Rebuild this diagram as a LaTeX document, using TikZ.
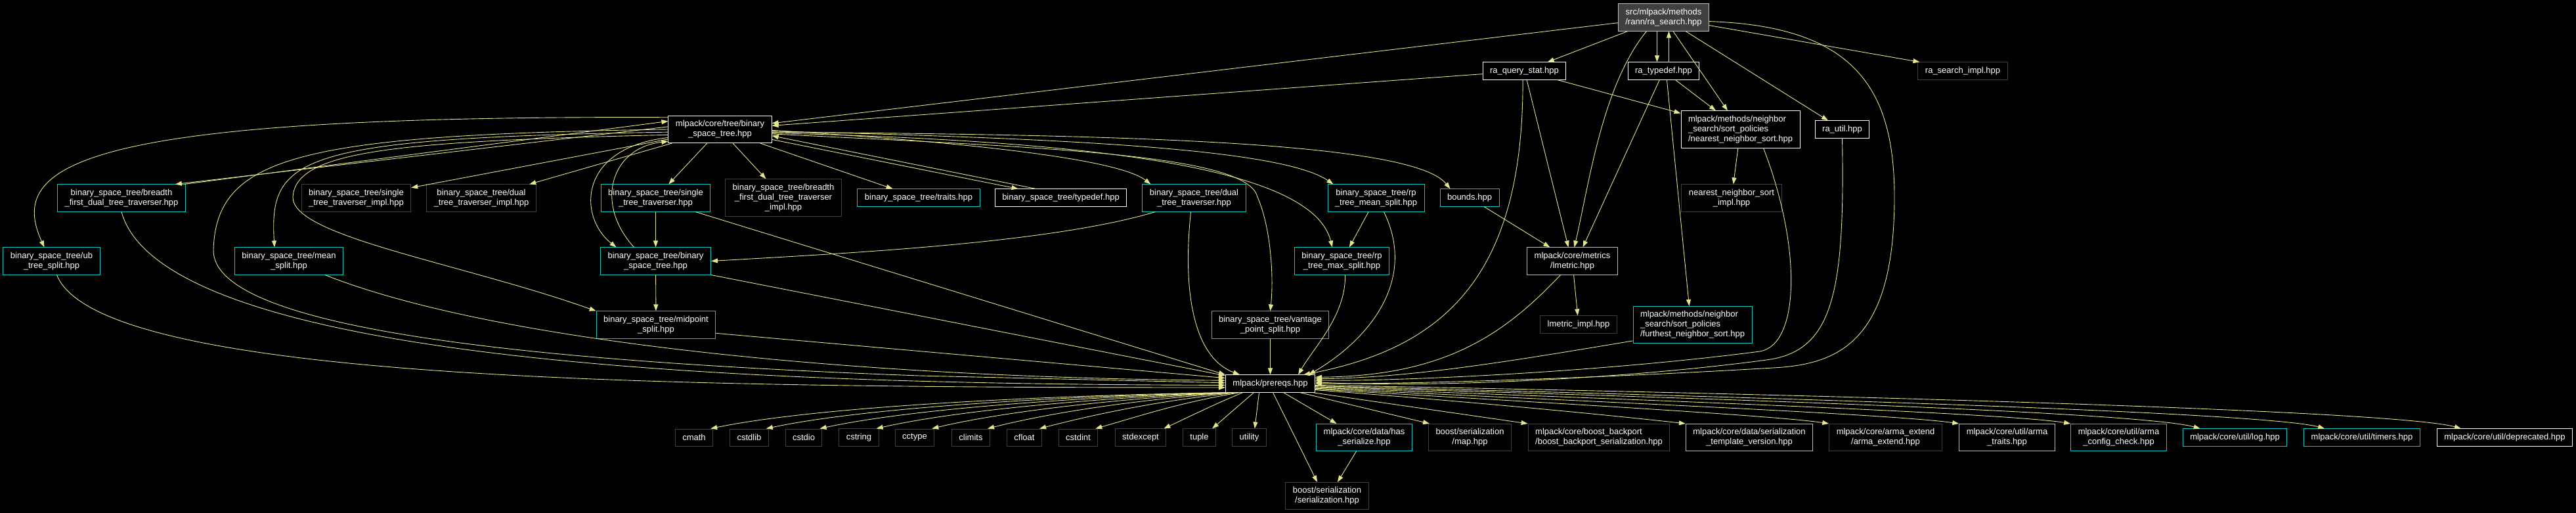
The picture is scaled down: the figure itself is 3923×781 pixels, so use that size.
\documentclass[tikz,border=0pt]{standalone}
\usepackage{fontspec}
\setmainfont{Liberation Sans}
\usetikzlibrary{arrows.meta}
\definecolor{edgeyellow}{HTML}{E6E68F}
\definecolor{cutcyan}{HTML}{00CCCC}
\definecolor{extgrey}{HTML}{404040}
\definecolor{docgrey}{HTML}{BFBFBF}
\definecolor{rootfill}{HTML}{404040}
\tikzset{
  incfile/.style={draw=white,line width=1pt,fill=black,text=white,
    font=\fontsize{13}{15}\selectfont,align=center,
    inner xsep=11pt,inner ysep=7pt,minimum height=26pt},
  docfile/.style={incfile,draw=docgrey},
  cutfile/.style={incfile,draw=cutcyan},
  extfile/.style={incfile,draw=extgrey},
  rootfile/.style={incfile,draw=docgrey,fill=rootfill},
  dep/.style={-{Triangle[length=10pt,width=7pt]},draw=edgeyellow,line width=0.9pt}
}

\begin{document}
\begin{tikzpicture}[x=1pt,y=-1pt]
  \useasboundingbox (0,0) rectangle (3923,781);
  \fill[black] (0,0) rectangle (3923,781);

  \node[rootfile] (search) at (2533.5,26.5) {src/mlpack/methods\\/rann/ra\_search.hpp};
  \node[incfile] (querystat) at (2321.5,108) {ra\_query\_stat.hpp};
  \node[incfile] (ratypedef) at (2533.5,108) {ra\_typedef.hpp};
  \node[extfile] (searchimpl) at (2989,108) {ra\_search\_impl.hpp};
  \node[incfile] (bst) at (1096.5,197) {mlpack/core/tree/binary\\\_space\_tree.hpp};
  \node[incfile,align=left] (nns) at (2650.5,197) {mlpack/methods/neighbor\\\_search/sort\_policies\\/nearest\_neighbor\_sort.hpp};
  \node[incfile] (rautil) at (2805.5,197) {ra\_util.hpp};

  \node[cutfile] (bfdt) at (185,301.5) {binary\_space\_tree/breadth\\\_first\_dual\_tree\_traverser.hpp};
  \node[extfile] (stimpl) at (542.5,301.5) {binary\_space\_tree/single\\\_tree\_traverser\_impl.hpp};
  \node[extfile] (dtimpl) at (733,301.5) {binary\_space\_tree/dual\\\_tree\_traverser\_impl.hpp};
  \node[cutfile] (stt) at (998.5,301.5) {binary\_space\_tree/single\\\_tree\_traverser.hpp};
  \node[extfile] (bfdtimpl) at (1193,301) {binary\_space\_tree/breadth\\\_first\_dual\_tree\_traverser\\\_impl.hpp};
  \node[cutfile] (traits) at (1399,301) {binary\_space\_tree/traits.hpp};
  \node[incfile] (bsttypedef) at (1615.5,301) {binary\_space\_tree/typedef.hpp};
  \node[cutfile] (dtt) at (1818.5,301.5) {binary\_space\_tree/dual\\\_tree\_traverser.hpp};
  \node[cutfile] (rpmean) at (2095.5,301.5) {binary\_space\_tree/rp\\\_tree\_mean\_split.hpp};
  \node[cutfile] (bounds) at (2238,301) {bounds.hpp};
  \node[extfile] (nnsimpl) at (2637,301.5) {nearest\_neighbor\_sort\\\_impl.hpp};

  \node[cutfile] (ubsplit) at (78.5,397.5) {binary\_space\_tree/ub\\\_tree\_split.hpp};
  \node[cutfile] (meansplit) at (440,397.5) {binary\_space\_tree/mean\\\_split.hpp};
  \node[cutfile] (bstbst) at (998.5,397.5) {binary\_space\_tree/binary\\\_space\_tree.hpp};
  \node[cutfile] (rpmax) at (2043.5,397.5) {binary\_space\_tree/rp\\\_tree\_max\_split.hpp};
  \node[docfile] (lmetric) at (2394.5,397.5) {mlpack/core/metrics\\/lmetric.hpp};

  \node[cutfile] (midpoint) at (999,494.5) {binary\_space\_tree/midpoint\\\_split.hpp};
  \node[cutfile] (vantage) at (1934.5,494.5) {binary\_space\_tree/vantage\\\_point\_split.hpp};
  \node[extfile] (lmetricimpl) at (2404,494) {lmetric\_impl.hpp};
  \node[cutfile,align=left] (fns) at (2577.5,494.5) {mlpack/methods/neighbor\\\_search/sort\_policies\\/furthest\_neighbor\_sort.hpp};

  \node[incfile] (prereqs) at (1934.5,584) {mlpack/prereqs.hpp};

  \node[extfile] (cmath) at (1057,666) {cmath};
  \node[extfile] (cstdlib) at (1141,666) {cstdlib};
  \node[extfile] (cstdio) at (1224,666) {cstdio};
  \node[extfile] (cstring) at (1308,666) {cstring};
  \node[extfile] (cctype) at (1393,666) {cctype};
  \node[extfile] (climits) at (1478.5,666) {climits};
  \node[extfile] (cfloat) at (1560,666) {cfloat};
  \node[extfile] (cstdint) at (1642,666) {cstdint};
  \node[extfile] (stdexcept) at (1737,666) {stdexcept};
  \node[extfile] (tuple) at (1826.5,666) {tuple};
  \node[extfile] (utility) at (1902.5,666) {utility};
  \node[cutfile] (hasser) at (2077.5,666) {mlpack/core/data/has\\\_serialize.hpp};
  \node[extfile] (map) at (2238.5,666) {boost/serialization\\/map.hpp};
  \node[extfile,align=left] (backport) at (2435,666) {mlpack/core/boost\_backport\\/boost\_backport\_serialization.hpp};
  \node[docfile] (stv) at (2664,666) {mlpack/core/data/serialization\\\_template\_version.hpp};
  \node[extfile] (armaext) at (2871.5,666) {mlpack/core/arma\_extend\\/arma\_extend.hpp};
  \node[docfile] (armatraits) at (3056.5,666) {mlpack/core/util/arma\\\_traits.hpp};
  \node[cutfile] (armacfg) at (3226.5,666) {mlpack/core/util/arma\\\_config\_check.hpp};
  \node[cutfile] (log) at (3403.5,666) {mlpack/core/util/log.hpp};
  \node[cutfile] (timers) at (3597,666) {mlpack/core/util/timers.hpp};
  \node[incfile] (deprecated) at (3814.5,666) {mlpack/core/util/deprecated.hpp};
  \node[extfile] (serial) at (2021,755) {boost/serialization\\/serialization.hpp};

  \draw[dep] (search) -- (bst);
  \draw[dep] (search) -- (querystat);
  \draw[dep] ([xshift=-10pt]search.south) -- ([xshift=-10pt]ratypedef.north);
  \draw[dep] ([xshift=8pt]ratypedef.north) -- ([xshift=8pt]search.south);
  \draw[dep] (search) -- (nns);
  \draw[dep] (search) -- (rautil);
  \draw[dep] (search) -- ([xshift=3pt]searchimpl.north west);
  \draw[dep] ([xshift=-26pt]search.south) .. controls (2440,130) and (2420,280) .. ([xshift=3pt]lmetric.north);
  \draw[dep] (search.-5) .. controls (2820,40) and (2885,130) .. (2885,300)
    .. controls (2885,520) and (2800,555) .. (2700,560) .. controls (2450,575) and (2150,585) .. (prereqs.0);

  \draw[dep] (querystat) -- (bst);
  \draw[dep] (querystat) -- (nns);
  \draw[dep] (querystat.285) -- ([xshift=-6pt]lmetric.north);
  \draw[dep] (querystat.260) .. controls (2320,420) and (2200,530) .. ([xshift=-18pt]prereqs.north east);

  \draw[dep] (ratypedef) -- ([xshift=16pt]lmetric.north);
  \draw[dep] (ratypedef.290) -- (fns.100);
  \draw[dep] (ratypedef) -- (nns);

  \draw[dep] (nns) -- (nnsimpl);
  \draw[dep] ([xshift=35pt]nns.south) .. controls (2745,380) and (2740,525) .. (2680,535)
    .. controls (2450,565) and (2150,580) .. (prereqs.4);
  \draw[dep] (rautil.south) .. controls (2810,450) and (2790,535) .. (2690,548)
    .. controls (2450,580) and (2150,590) .. (prereqs.2);
  \draw[dep] (fns.195) .. controls (2300,550) and (2150,575) .. (prereqs.6);

  \draw[dep] (lmetric) -- (lmetricimpl);
  \draw[dep] ([xshift=-18pt]lmetric.south) .. controls (2290,510) and (2200,572) .. (prereqs.8);
  \draw[dep] (bounds) -- (lmetric);

  \draw[dep] (bst.167) .. controls (120,175) and (10,250) .. ([xshift=-11pt]ubsplit.north);
  \draw[dep] ([xshift=-2pt]bfdt.north east) -- (bst.171);
  \draw[dep] (bst.177) -- ([xshift=-16pt]bfdt.north east);
  \draw[dep] (bst.180) .. controls (450,205) and (330,240) .. (325,380)
    .. controls (322,500) and (800,550) .. (1400,572) -- (prereqs.179);
  \draw[dep] (bst.183) .. controls (450,210) and (410,240) .. ([xshift=-22pt]meansplit.north);
  \draw[dep] (bst.186) .. controls (600,215) and (450,230) .. (446,300)
    .. controls (445,360) and (700,400) .. (midpoint.north west);
  \draw[dep] (bst.189) .. controls (880,225) and (880,330) .. ([xshift=-60pt]bstbst.north);
  \draw[dep] ([xshift=-33pt]bstbst.north) .. controls (905,310) and (930,225) .. (bst.193);
  \draw[dep] (bst) -- (stimpl);
  \draw[dep] (bst) -- (dtimpl);
  \draw[dep] (bst) -- (stt);
  \draw[dep] (bst) -- (bfdtimpl);
  \draw[dep] (bst) -- (traits);
  \draw[dep] (bst.-11) -- ([xshift=-65pt]bsttypedef.north);
  \draw[dep] ([xshift=-38pt]bsttypedef.north) -- (bst.-7);
  \draw[dep] (bst.-1) .. controls (1450,215) and (1700,240) .. ([xshift=13pt]dtt.north west);
  \draw[dep] (bst.-2) .. controls (1600,210) and (1950,225) .. ([xshift=9pt]rpmean.north west);
  \draw[dep] (bst.-3) .. controls (1700,205) and (2150,215) .. ([xshift=16pt]bounds.north west);
  \draw[dep] (bst.-4) .. controls (1700,215) and (2000,260) .. ([xshift=58pt]rpmax.north west);
  \draw[dep] (bst.-5) .. controls (1600,225) and (1900,235) .. (1915,300)
    .. controls (1935,345) and (1940,420) .. (vantage.north);

  \draw[dep] (stt) -- (bstbst);
  \draw[dep] ([xshift=20pt]dtt.south west) .. controls (1600,370) and (1300,385) .. (bstbst.east);
  \draw[dep] (bstbst) -- (midpoint);
  \draw[dep] (rpmean) -- (rpmax);

  \draw[dep] ([xshift=-23pt]stt.south east) -- (prereqs.north west);
  \draw[dep] (bstbst.south east) -- (prereqs.170);
  \draw[dep] (midpoint.-8) -- (prereqs.173);
  \draw[dep] ([xshift=-28pt]meansplit.south east) .. controls (750,520) and (1300,575) .. (prereqs.176);
  \draw[dep] (bfdt.south) .. controls (250,560) and (1200,585) .. (prereqs.182);
  \draw[dep] ([xshift=8pt]ubsplit.south) .. controls (150,580) and (1000,590) .. (prereqs.185);
  \draw[dep] ([xshift=-5pt]dtt.south) .. controls (1800,450) and (1820,545) .. ([xshift=22pt]prereqs.north west);
  \draw[dep] (vantage) -- (prereqs);
  \draw[dep] ([xshift=12pt]rpmean.south) .. controls (2160,430) and (2080,520) .. ([xshift=-10pt]prereqs.north east);
  \draw[dep] ([xshift=5pt]rpmax.south) .. controls (2050,480) and (2000,530) .. ([xshift=-26pt]prereqs.north east);

  \draw[dep] ([xshift=2pt]prereqs.south west) .. controls (1600,602) and (1250,618) .. ([xshift=-4pt]cmath.north east);
  \draw[dep] ([xshift=5pt]prereqs.south west) .. controls (1620,603) and (1320,620) .. ([xshift=-4pt]cstdlib.north east);
  \draw[dep] ([xshift=8pt]prereqs.south west) .. controls (1650,604) and (1390,622) .. ([xshift=-4pt]cstdio.north east);
  \draw[dep] ([xshift=11pt]prereqs.south west) .. controls (1680,605) and (1460,624) .. ([xshift=-4pt]cstring.north east);
  \draw[dep] ([xshift=14pt]prereqs.south west) .. controls (1710,606) and (1530,626) .. ([xshift=-4pt]cctype.north east);
  \draw[dep] ([xshift=17pt]prereqs.south west) .. controls (1740,607) and (1600,628) .. ([xshift=-4pt]climits.north east);
  \draw[dep] ([xshift=20pt]prereqs.south west) .. controls (1770,609) and (1670,630) .. ([xshift=-4pt]cfloat.north east);
  \draw[dep] ([xshift=23pt]prereqs.south west) .. controls (1800,612) and (1740,632) .. ([xshift=-4pt]cstdint.north east);
  \draw[dep] ([xshift=27pt]prereqs.south west) .. controls (1850,615) and (1810,635) .. ([xshift=-4pt]stdexcept.north east);
  \draw[dep] ([xshift=-25pt]prereqs.south) -- ([xshift=-6pt]tuple.north east);
  \draw[dep] ([xshift=-17pt]prereqs.south) -- ([xshift=-18pt]utility.north east);
  \draw[dep] ([xshift=4pt]prereqs.south) -- ([xshift=-15pt]serial.north);
  \draw[dep] ([xshift=20pt]prereqs.south) -- ([xshift=-42pt]hasser.north);
  \draw[dep] ([xshift=45pt]prereqs.south) -- ([xshift=2pt]map.north west);
  \draw[dep] (prereqs.-12) -- (backport.north west);
  \draw[dep] (prereqs.-8) .. controls (2250,612) and (2480,635) .. (stv.north west);
  \draw[dep] (prereqs.-7) .. controls (2300,610) and (2700,632) .. (armaext.north west);
  \draw[dep] (prereqs.-6) .. controls (2350,608) and (2880,630) .. (armatraits.north west);
  \draw[dep] (prereqs.-5) .. controls (2400,605) and (3050,628) .. (armacfg.north west);
  \draw[dep] (prereqs.-4) .. controls (2450,602) and (3250,625) .. ([xshift=27pt]log.north west);
  \draw[dep] (prereqs.-3) .. controls (2500,600) and (3440,625) .. ([xshift=32pt]timers.north west);
  \draw[dep] (prereqs.-2) .. controls (2600,597) and (3640,622) .. ([xshift=37pt]deprecated.north west);
  \draw[dep] ([xshift=-12pt]hasser.south) -- ([xshift=16pt]serial.north);
\end{tikzpicture}
\end{document}
